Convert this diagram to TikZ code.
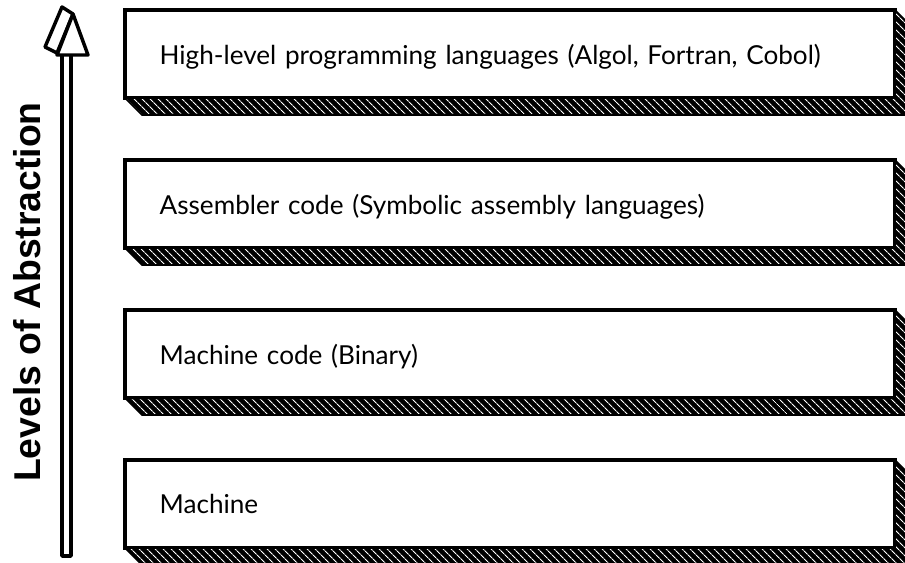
\documentclass[tikz,border=0pt]{standalone}
\usepackage{fontspec}
\setmainfont{Lato}
\setsansfont{Liberation Sans}
\usetikzlibrary{positioning,patterns.meta}
\tikzset{
  levelbox/.style={draw, line width=3pt, fill=white, minimum height=66pt,
    text width=525.5pt, inner xsep=26pt, outer sep=0pt, align=left,
    text depth=0pt, font=\fontsize{19.6}{23}\selectfont},
  ledge/.style={draw=black, line width=1.2pt, preaction={fill=black},
    pattern={Lines[angle=-45,distance=4pt,line width=0.9pt]}, pattern color=white},
  arrowpart/.style={draw, line width=2.6pt, fill=white, line join=round}
}

\begin{document}
\begin{tikzpicture}[x=0.75pt, y=-0.75pt]
\useasboundingbox (0,0) rectangle (905,562);
\clip (0,0) rectangle (905,562);

% Levels
\node[levelbox, anchor=north west] (hll) at (125,10) {High-level programming languages (Algol, Fortran, Cobol)};
\node[levelbox, below=46.5pt of hll] (asm) {Assembler code (Symbolic assembly languages)};
\node[levelbox, below=46.5pt of asm] (mcode) {Machine code (Binary)};
\node[levelbox, below=46.5pt of mcode] (machine) {Machine};

% Extruded edges
\foreach \n in {hll,asm,mcode,machine} {
  \path[ledge] (\n.south west) -- ++(17,17) -- ++(770,0) -- ++(0,-88)
    -- (\n.north east) -- (\n.south east) -- cycle;
}

% Abstraction arrow
\path[arrowpart] (62,52) rectangle (71,556);
\path[arrowpart] (45,47) -- (62,7) -- (73,14) -- (57,53) -- cycle;
\path[arrowpart] (57,55) -- (73,14) -- (88,55) -- cycle;

\node[rotate=90, font=\sffamily\bfseries\fontsize{28}{30}\selectfont] (title) at (27,292) {Levels of Abstraction};
\end{tikzpicture}
\end{document}
